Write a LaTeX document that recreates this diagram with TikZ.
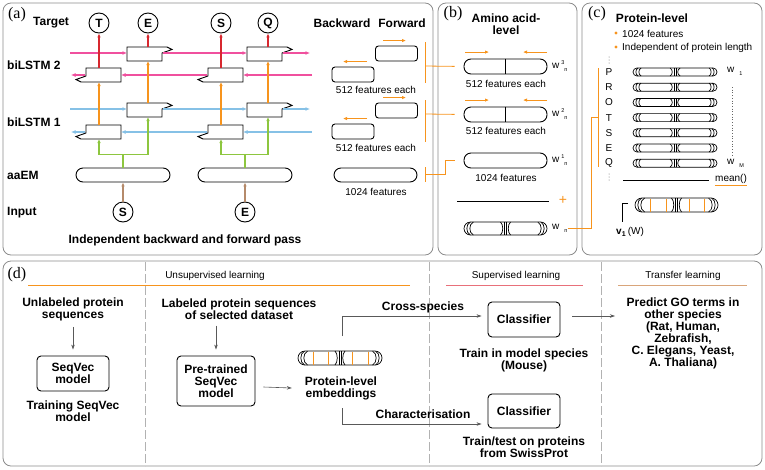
\documentclass[tikz,border=0pt]{standalone}
\usepackage{fontspec}
\setmainfont{Liberation Sans}
\newfontfamily\panelfont{Liberation Serif}
\usepackage{tikz}
\usetikzlibrary{calc}
\usetikzlibrary{positioning}
\usetikzlibrary{arrows.meta}

\definecolor{lstmpink}{HTML}{F0509E}
\definecolor{lstmblue}{HTML}{86C1E6}
\definecolor{embgreen}{HTML}{8DC63F}
\definecolor{outorange}{HTML}{F7941D}
\definecolor{tgtred}{HTML}{D7282F}
\definecolor{inbrown}{HTML}{B58A6A}
\definecolor{framegray}{HTML}{8C8C8C}
\definecolor{suplred}{HTML}{E8707A}
\definecolor{tranbrown}{HTML}{D9A57A}

\tikzset{
  panel/.style={draw=framegray, rounded corners=8pt, line width=0.8pt},
  lbl/.style={font=\fontsize{12}{12}\selectfont\bfseries, align=center, inner sep=0pt},
  small/.style={font=\fontsize{10}{11}\selectfont, inner sep=0pt},
  plabel/.style={font=\panelfont\fontsize{16}{16}\selectfont, inner sep=0pt},
  cell/.style={draw, line width=0.9pt, fill=white},
  tok/.style={draw, circle, line width=0.9pt, minimum size=20pt, inner sep=0pt, font=\fontsize{12}{12}\selectfont\bfseries},
  featbox/.style={draw, rounded corners=3pt, line width=0.9pt, minimum width=42pt, minimum height=15pt, inner sep=0pt},
  pill/.style={draw, rounded corners=7pt, line width=0.9pt, inner sep=0pt},
  flow/.style={-{Latex[length=4pt,width=3.5pt]}, line width=1.1pt},
  hflow/.style={-{Latex[length=4.5pt,width=4pt]}, line width=1.25pt},
  garr/.style={-{Stealth[length=5pt,width=3.5pt]}, draw=black!65, line width=0.6pt},
  modelbox/.style={draw, rounded corners=4pt, line width=0.9pt, align=center, inner sep=2pt, font=\fontsize{12}{12}\selectfont\bfseries},
  divider/.style={draw=black!30, dash pattern=on 9pt off 3pt, line width=0.7pt}
}

% forward / backward LSTM cells
\newcommand{\fwcell}[3]{%
  \draw[cell] (#2,#3) -- ++(40,0) -- ++(5,2.5) -- ++(-10,3.5) -- ++(0,8) -- ++(-35,0) -- cycle;
  \coordinate (#1-l) at (#2,#3+6);
  \coordinate (#1-r) at (#2+36,#3+6);
  \coordinate (#1-t) at (#2+21,#3);
  \coordinate (#1-b) at (#2+21,#3+14);}
\newcommand{\bwcell}[3]{%
  \draw[cell] (#2,#3) -- ++(-40,0) -- ++(-5,-2.5) -- ++(10,-3.5) -- ++(0,-8) -- ++(35,0) -- cycle;
  \coordinate (#1-r) at (#2,#3-7);
  \coordinate (#1-l) at (#2-36,#3-7);
  \coordinate (#1-t) at (#2-22,#3-14);
  \coordinate (#1-b) at (#2-22,#3);}

% embedding bar
\newcommand{\embbar}[4]{%
  \begin{scope}[shift={(#1,#2)}, line width=0.7pt]
    \draw[rounded corners=#4pt] (-#3,-#4) rectangle (#3,#4);
    \foreach \o in {3,6} {
      \draw ({-#3+\o+#4*0.5},{-#4}) .. controls ({-#3+\o-#4*0.2},{-#4*0.7}) and ({-#3+\o-#4*0.2},{#4*0.7}) .. ({-#3+\o+#4*0.5},{#4});
      \draw ({#3-\o-#4*0.5},{-#4}) .. controls ({#3-\o+#4*0.2},{-#4*0.7}) and ({#3-\o+#4*0.2},{#4*0.7}) .. ({#3-\o-#4*0.5},{#4});
    }
    \draw (-5,-#4) .. controls (-2,{-#4*0.6}) and (-2,{#4*0.6}) .. (-5,#4);
    \draw (-1,-#4) -- (-1,#4);
    \draw (1,-#4) -- (1,#4);
    \draw (5,-#4) .. controls (2,{-#4*0.6}) and (2,{#4*0.6}) .. (5,#4);
  \end{scope}}

\newcommand{\wlab}[2]{w\hspace{2pt}\makebox[3pt][l]{\raisebox{3.5pt}{\fontsize{5.5}{6}\selectfont #1}}\raisebox{-3pt}{\fontsize{5.5}{6}\selectfont #2}}

\begin{document}
\begin{tikzpicture}[x=1pt, y=-1pt]
    \useasboundingbox (0,0) rectangle (765,469);

    \draw[panel] (3,3) rectangle (433,255);
    \draw[panel] (438,3) rectangle (577,255);
    \draw[panel] (582,3) rectangle (762,255);
    \draw[panel] (3,261) rectangle (762,466);

    % (a)
    \node[plabel] (pla) at (17,15) {(a)};
    \node[lbl, anchor=west] (tgtlab) at (33,23) {Target};
    \node[lbl, anchor=west] (l2lab) at (7,65) {biLSTM 2};
    \node[lbl, anchor=west] (l1lab) at (7,122) {biLSTM 1};
    \node[lbl, anchor=west] (emlab) at (7,175) {aaEM};
    \node[lbl, anchor=west] (inlab) at (7,213) {Input};

    \node[tok] (tT) at (99,23) {T};
    \node[tok] (tE) at (148,23) {E};
    \node[tok] (tS) at (221,23) {S};
    \node[tok] (tQ) at (268,23) {Q};
    \node[tok] (iS) at (123,212) {S};
    \node[tok] (iE) at (245,212) {E};

    \node[pill, minimum width=94pt, minimum height=14pt] (em1) at (123,175) {};
    \node[pill, minimum width=94pt, minimum height=14pt] (em2) at (245,175) {};

    \fwcell{fa2}{127}{47}
    \fwcell{fb2}{247}{47}
    \bwcell{ba2}{121}{82}
    \bwcell{bb2}{243}{82}
    \fwcell{fa1}{127}{103}
    \fwcell{fb1}{247}{103}
    \bwcell{ba1}{121}{139}
    \bwcell{bb1}{243}{139}

    \coordinate (p2in) at (70,53);
    \coordinate (p2out) at (310,53);
    \coordinate (q2in) at (312,75);
    \coordinate (q2out) at (71,75);
    \coordinate (p1in) at (70,109);
    \coordinate (p1out) at (310,109);
    \coordinate (q1in) at (312,132);
    \coordinate (q1out) at (71,132);

    \draw[hflow, lstmpink] (p2in) -- (fa2-l);
    \draw[hflow, lstmpink] (fa2-r) -- (fb2-l);
    \draw[hflow, lstmpink] (fb2-r) -- (p2out);
    \draw[hflow, lstmpink] (q2in) -- (bb2-r);
    \draw[hflow, lstmpink] (bb2-l) -- (ba2-r);
    \draw[hflow, lstmpink] (ba2-l) -- (q2out);
    \draw[hflow, lstmblue] (p1in) -- (fa1-l);
    \draw[hflow, lstmblue] (fa1-r) -- (fb1-l);
    \draw[hflow, lstmblue] (fb1-r) -- (p1out);
    \draw[hflow, lstmblue] (q1in) -- (bb1-r);
    \draw[hflow, lstmblue] (bb1-l) -- (ba1-r);
    \draw[hflow, lstmblue] (ba1-l) -- (q1out);

    \draw[flow, tgtred] (ba2-t) -- (tT);
    \draw[flow, tgtred] (fa2-t) -- (tE);
    \draw[flow, tgtred] (bb2-t) -- (tS);
    \draw[flow, tgtred] (fb2-t) -- (tQ);
    \draw[flow, outorange] (ba1-t) -- (ba2-b);
    \draw[flow, outorange] (fa1-t) -- (fa2-b);
    \draw[flow, outorange] (bb1-t) -- (bb2-b);
    \draw[flow, outorange] (fb1-t) -- (fb2-b);

    \draw[embgreen, line width=1.1pt] (em1.north) -- ++(0,-13) coordinate (g1);
    \draw[embgreen, line width=1.1pt] (em2.north) -- ++(0,-13) coordinate (g2);
    \draw[flow, embgreen] (g1) -| (ba1-b);
    \draw[flow, embgreen] (g1) -| (fa1-b);
    \draw[flow, embgreen] (g2) -| (bb1-b);
    \draw[flow, embgreen] (g2) -| (fb1-b);
    \draw[flow, inbrown] (iS) -- (iS |- em1.south);
    \draw[flow, inbrown] (iE) -- (iE |- em2.south);

    \node[lbl] (pass) at (185,240) {Independent backward and forward pass};

    \node[lbl] (bwlab) at (342,23) {Backward};
    \node[lbl] (fwlab) at (402,23) {Forward};
    \node[featbox] (fw2r) at (396.5,53.5) {};
    \node[featbox] (bw2r) at (353,74.5) {};
    \node[small] (n512a) at (376,90) {512 features each};
    \node[featbox] (fw1r) at (396.5,110.5) {};
    \node[featbox] (bw1r) at (353,131.5) {};
    \node[small] (n512b) at (376,148) {512 features each};
    \node[pill, minimum width=83pt, minimum height=14pt] (emr) at (375.5,175) {};
    \node[small] (n1024a) at (376,192) {1024 features};
    \draw[flow, outorange] ($(fw2r.north)+(-13.5,-5)$) -- ($(fw2r.north)+(9.5,-5)$);
    \draw[flow, outorange] ($(bw2r.north)+(14,-5)$) -- ($(bw2r.north)+(-10,-5)$);
    \draw[flow, outorange] ($(fw1r.north)+(-13.5,-5)$) -- ($(fw1r.north)+(9.5,-5)$);
    \draw[flow, outorange] ($(bw1r.north)+(14,-5)$) -- ($(bw1r.north)+(-10,-5)$);

    % (b)
    \node[plabel] (plb) at (453,14) {(b)};
    \node[lbl] (blab) at (506,24) {Amino acid-\\level};
    \node[pill, minimum width=83pt, minimum height=15pt] (w3) at (505.5,66.5) {};
    \draw[line width=0.9pt] (w3.north) -- (w3.south);
    \node[small, anchor=west] (w3lab) at (552,66) {\wlab{3}{n}};
    \node[small] (n512c) at (506,84) {512 features each};
    \node[pill, minimum width=83pt, minimum height=15pt] (w2) at (505.5,114.5) {};
    \draw[line width=0.9pt] (w2.north) -- (w2.south);
    \node[small, anchor=west] (w2lab) at (552,114) {\wlab{2}{n}};
    \node[small] (n512d) at (506,131) {512 features each};
    \node[pill, minimum width=83pt, minimum height=15pt] (w1) at (505.5,160.5) {};
    \node[small, anchor=west] (w1lab) at (552,160) {\wlab{1}{n}};
    \node[small] (n1024b) at (506,178) {1024 features};
    \foreach \b in {w3,w2} {
      \draw[flow, outorange] ($(\b.north)+(-40.5,-6.5)$) -- ($(\b.north)+(-16.5,-6.5)$);
      \draw[flow, outorange] ($(\b.north)+(41.5,-6.5)$) -- ($(\b.north)+(17.5,-6.5)$);
    }
    \draw[line width=0.9pt] (457,201) -- (549,201);
    \node[font=\fontsize{14}{14}\selectfont, text=outorange, inner sep=0pt] (plus) at (563,200) {+};
    \embbar{505.5}{228.5}{41.5}{6.5}
    \node[small, anchor=west] (wnlab) at (552,228) {\wlab{}{n}};

    \coordinate (br3) at (425,66);
    \coordinate (br2) at (425,114);
    \coordinate (br1) at (425,174);
    \draw[outorange, line width=0.8pt] (425,42) -- (425,83);
    \draw[outorange, line width=0.8pt] (425,100) -- (425,142);
    \draw[outorange, line width=0.8pt] (425,167) -- (425,182);
    \draw[outorange, line width=0.8pt, shorten >=9pt] (br3) -- (w3.west);
    \draw[outorange, line width=0.8pt, shorten >=9pt] (br2) -- (w2.west);
    \draw[outorange, line width=0.8pt, shorten >=9pt] (br1) -- (445,174) |- (w1.west);

    % (c)
    \node[plabel] (plc) at (597,14) {(c)};
    \node[lbl] (clab) at (652,18) {Protein-level};
    \fill[outorange] (616,33) circle (1.6pt);
    \fill[outorange] (616,47) circle (1.6pt);
    \node[small, anchor=west] (bul1) at (622,34) {1024 features};
    \node[small, anchor=west] (bul2) at (622,48) {Independent of protein length};
    \foreach \d in {57,60,63,174,177,180} \fill[black!60] (609,\d) circle (0.5pt);
    \foreach \ch [count=\i, evaluate=\i as \yy using 72+15.2*(\i-1)] in {P,R,O,T,S,E,Q} {
      \node[small] (seq\i) at (609,\yy) {\ch};
      \embbar{675}{\yy}{42}{4}
    }
    \node[small, anchor=west] (wc1) at (727,71) {\wlab{}{1}};
    \node[small, anchor=west] (wcM) at (727,163) {\wlab{}{M}};
    \draw[black!60, dotted, line width=0.7pt] (732,87) -- (732,157);
    \draw[outorange, line width=0.8pt] (598,68) -- (598,167);
    \coordinate (cbr) at (598,117);
    \draw[outorange, line width=0.8pt] (wnlab.east) -- (591,228) |- (cbr);
    \draw[line width=0.9pt] (623,180) -- (709,180);
    \node[small] (mean) at (731,179) {mean()};
    \draw[outorange, line width=1pt] ([yshift=-2pt]mean.south west) -- ([yshift=-2pt]mean.south east);
    \embbar{676.5}{205}{41.5}{7}
    \foreach \s in {-26.5,-10.5,12.5,27.5} \draw[outorange, line width=0.9pt] (676.5+\s,198.5) -- (676.5+\s,211.5);
    \draw[line width=0.8pt] (628,203) -- (622,203) -- (622,222);
    \node[small, anchor=west] (v1) at (616,232) {\textbf{v}\textsubscript{\textbf{1}}\,(W)};

    % (d)
    \node[plabel] (pld) at (17,275) {(d)};
    \draw[divider] (145,262) -- (145,466);
    \draw[divider] (429,262) -- (429,466);
    \draw[divider] (601,262) -- (601,466);
    \node[small] (unsup) at (215,276) {Unsupervised learning};
    \node[small] (sup) at (516,276) {Supervised learning};
    \node[small] (trans) at (683,276) {Transfer learning};
    \draw[outorange, line width=1pt] (28,285) -- (410,285);
    \draw[suplred, line width=1pt] (446,285) -- (583,285);
    \draw[tranbrown, line width=1pt] (618,285) -- (747,285);

    \node[lbl] (unl) at (73,309) {Unlabeled protein\\sequences};
    \node[modelbox, minimum width=72pt, minimum height=35pt] (seqvec) at (73,373.5) {SeqVec\\model};
    \node[lbl] (train) at (73,411) {Training SeqVec\\model};
    \node[lbl] (lab) at (239,309) {Labeled protein sequences\\of selected dataset};
    \node[modelbox, minimum width=78pt, minimum height=50pt] (pre) at (216,381) {Pre-trained\\SeqVec\\model};
    \embbar{340}{358}{42}{7}
    \foreach \s in {-27,-12,12,28} \draw[outorange, line width=0.9pt] (340+\s,351.5) -- (340+\s,364.5);
    \node[lbl] (embtxt) at (341,388) {Protein-level\\embeddings};
    \node[modelbox, minimum width=72pt, minimum height=35pt] (cls1) at (524,319.5) {Classifier};
    \node[lbl] (mouse) at (524,360) {Train in model species\\(Mouse)};
    \node[modelbox, minimum width=72pt, minimum height=34pt] (cls2) at (524,411) {Classifier};
    \node[lbl] (swiss) at (524,447) {Train/test on proteins\\from SwissProt};
    \node[lbl] (pred) at (683,333) {Predict GO terms in\\other species\\(Rat, Human,\\Zebrafish,\\C. Elegans, Yeast,\\A. Thaliana)};
    \node[lbl] (cross) at (423,307) {Cross-species};
    \node[lbl] (charac) at (423,414) {Characterisation};

    \coordinate (brup) at (342,336);
    \coordinate (brdn) at (342,408);
    \coordinate (predin) at (615,316);
    \draw[garr, shorten <=6pt, shorten >=6pt] (unl.south) -- (seqvec.north);
    \draw[garr, shorten <=6pt, shorten >=6pt] (pre.north |- lab.south) -- (pre.north);
    \draw[garr] ([xshift=8pt,yshift=-6pt]pre.east) -- ([xshift=-13pt]embtxt.west);
    \draw[garr, shorten >=6pt] (brup) |- ([yshift=3.5pt]cls1.west);
    \draw[garr, shorten >=6pt] (brdn) |- ([yshift=-13pt]cls2.west);
    \draw[garr, shorten <=12pt] ([yshift=3.5pt]cls1.east) -- (predin);
\end{tikzpicture}
\end{document}
